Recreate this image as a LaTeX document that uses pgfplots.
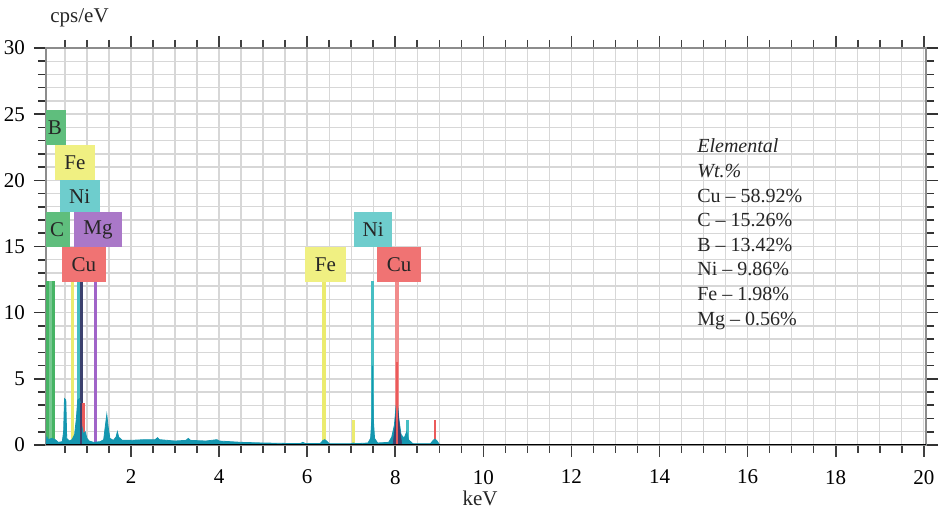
\documentclass[border=0pt]{standalone}
\usepackage{pgfplots}
\pgfplotsset{compat=1.18}
\usepackage{fontspec}
\setmainfont{Liberation Serif}
\definecolor{gridc}{RGB}{215,215,215}
\definecolor{frame}{RGB}{140,140,140}
\definecolor{bgreen}{RGB}{95,190,125}
\definecolor{lgreen}{RGB}{70,180,100}
\definecolor{byellow}{RGB}{240,240,130}
\definecolor{lyellow}{RGB}{235,235,110}
\definecolor{bcyan}{RGB}{110,205,205}
\definecolor{lcyan}{RGB}{70,190,195}
\definecolor{bpurple}{RGB}{170,120,200}
\definecolor{lpurple}{RGB}{160,100,200}
\definecolor{bred}{RGB}{240,115,115}
\definecolor{lred}{RGB}{235,90,90}
\definecolor{spec}{RGB}{20,150,175}
\definecolor{navy}{RGB}{60,65,110}
\begin{document}
\begin{tikzpicture}
\useasboundingbox (-23pt,-39pt) rectangle (449pt,222.5pt);
\begin{axis}[
  scale only axis, width=440pt, height=198.5pt,
  xmin=0.07, xmax=20.05, ymin=0, ymax=30,
  xtick={2,4,...,20}, minor xtick={0.5,1,...,20},
  ytick={0,5,...,30}, minor ytick={1,2,...,30},
  grid=both, major grid style={gridc, line width=0.7pt}, minor grid style={gridc, line width=0.7pt},
  tick align=outside,
  major tick length=6pt, minor tick length=4pt,
  xtick style={black!75, line width=0.8pt},
  ytick style={black!80, line width=0.8pt},
  axis line style={frame, line width=1.4pt},
  tick label style={font=\fontsize{10.5}{12}\selectfont},
  /pgf/number format/assume math mode=true,
  xticklabel style={yshift=-3pt},
  yticklabel style={xshift=-1pt},
  clip=true,
]
% element marker lines
\addplot[ycomb, bgreen!85, line width=4pt, no markers] coordinates {(0.17,12.4)};
\addplot[ycomb, lgreen, line width=1.6pt, no markers] coordinates {(0.10,12.4) (0.24,12.4)};
\addplot[ycomb, lyellow, line width=1.6pt, no markers] coordinates {(0.68,12.4) (6.38,12.4) (7.05,1.9)};
\addplot[ycomb, lcyan, line width=1.6pt, no markers] coordinates {(0.80,12.4) (7.48,12.4) (8.27,1.9)};
\addplot[ycomb, navy, line width=1.6pt, no markers] coordinates {(0.87,12.4)};
\addplot[ycomb, lpurple, line width=1.4pt, no markers] coordinates {(1.20,12.4)};
\addplot[ycomb, lred!70, line width=1.6pt, no markers] coordinates {(8.04,12.4)};
\addplot[ycomb, lred, line width=1.2pt, no markers] coordinates {(0.92,3.2) (8.90,1.9)};
% spectrum
\addplot[fill=spec, draw=spec, line width=0.4pt, no markers] coordinates {
(0.07,0) (0.09,0.6) (0.12,0.4) (0.2,0.5) (0.28,0.4) (0.35,0.2) (0.44,0.25) (0.47,1.0) (0.49,3.5) (0.52,3.4) (0.54,0.5) (0.6,0.3) (0.66,0.4) (0.72,0.8) (0.76,2.0) (0.79,3.4) (0.83,3.5) (0.86,3.0) (0.88,1.5) (0.92,0.8) (0.96,1.0) (1.0,0.5) (1.05,0.3) (1.15,0.2) (1.3,0.25) (1.38,0.4) (1.42,1.5) (1.45,2.3) (1.48,1.4) (1.52,0.5) (1.6,0.35) (1.66,0.6) (1.69,1.0) (1.72,0.6) (1.8,0.35) (2.0,0.35) (2.3,0.4) (2.55,0.4) (2.6,0.55) (2.65,0.4) (3.0,0.3) (3.25,0.35) (3.3,0.5) (3.35,0.35) (3.7,0.3) (3.95,0.4) (4.0,0.3) (4.5,0.2) (5.0,0.15) (5.5,0.12) (5.85,0.12) (5.9,0.2) (5.95,0.12) (6.3,0.12) (6.36,0.35) (6.4,0.4) (6.44,0.3) (6.5,0.1) (7.0,0.1) (7.05,0.15) (7.1,0.1) (7.38,0.15) (7.44,0.5) (7.47,2.0) (7.48,6.0) (7.5,2.0) (7.53,0.5) (7.6,0.15) (7.85,0.2) (7.92,0.6) (7.98,1.5) (8.02,3.0) (8.05,3.1) (8.08,2.0) (8.13,0.8) (8.2,0.5) (8.26,1.0) (8.3,0.4) (8.4,0.1) (8.8,0.1) (8.86,0.35) (8.9,0.45) (8.95,0.3) (9.0,0.05) (9.2,0) (20.05,0)} \closedcycle;
\addplot[fill=navy, draw=navy, line width=0.3pt, no markers] coordinates {(7.95,0) (8.0,1.5) (8.03,3.0) (8.05,3.0) (8.1,1.2) (8.15,0)} \closedcycle;
\addplot[ycomb, lred, line width=1.2pt, no markers] coordinates {(8.04,6.3)};
\addplot[ycomb, navy, line width=1.2pt, no markers] coordinates {(0.87,3.2)};
% label boxes
\fill[bgreen] (axis cs:0.07,22.68) rectangle (axis cs:0.52,25.32);
\fill[byellow] (axis cs:0.27,20.03) rectangle (axis cs:1.18,22.68);
\fill[bcyan] (axis cs:0.38,17.6) rectangle (axis cs:1.29,20.03);
\fill[bgreen] (axis cs:0.07,14.97) rectangle (axis cs:0.61,17.6);
\fill[bpurple] (axis cs:0.70,14.97) rectangle (axis cs:1.80,17.6);
\fill[bred] (axis cs:0.43,12.3) rectangle (axis cs:1.43,14.97);
\fill[byellow] (axis cs:5.95,12.3) rectangle (axis cs:6.88,14.95);
\fill[bcyan] (axis cs:7.07,14.97) rectangle (axis cs:7.93,17.6);
\fill[bred] (axis cs:7.59,12.3) rectangle (axis cs:8.59,14.95);
\begin{scope}[every node/.style={font=\fontsize{10.5}{12}\selectfont, text=black!85, inner sep=0pt}]
\node at (axis cs:0.27,24.0) {B};
\node at (axis cs:0.725,21.35) {Fe};
\node at (axis cs:0.835,18.8) {Ni};
\node at (axis cs:0.32,16.28) {C};
\node at (axis cs:1.25,16.28) {Mg};
\node at (axis cs:0.93,13.63) {Cu};
\node at (axis cs:6.415,13.62) {Fe};
\node at (axis cs:7.50,16.28) {Ni};
\node at (axis cs:8.09,13.62) {Cu};
\end{scope}
\node[anchor=north west, align=left, inner sep=0pt, font=\fontsize{10}{12.3}\selectfont, text=black!85] at (axis cs:14.85,23.15)
 {\textit{Elemental}\\ \textit{Wt.\%}\\ Cu -- 58.92\%\\ C -- 15.26\%\\ B -- 13.42\%\\ Ni -- 9.86\%\\ Fe -- 1.98\%\\ Mg -- 0.56\%};
\draw[black, line width=1.3pt] (rel axis cs:0,0) -- (rel axis cs:1,0);
\end{axis}
\node[anchor=base west, inner sep=0pt, font=\fontsize{10.5}{12}\selectfont, text=black!85] at (2pt,211pt) {cps/eV};
\node[anchor=base, inner sep=0pt, font=\fontsize{10.5}{12}\selectfont, text=black!85] at (217pt,-30.5pt) {keV};
\end{tikzpicture}
\end{document}
